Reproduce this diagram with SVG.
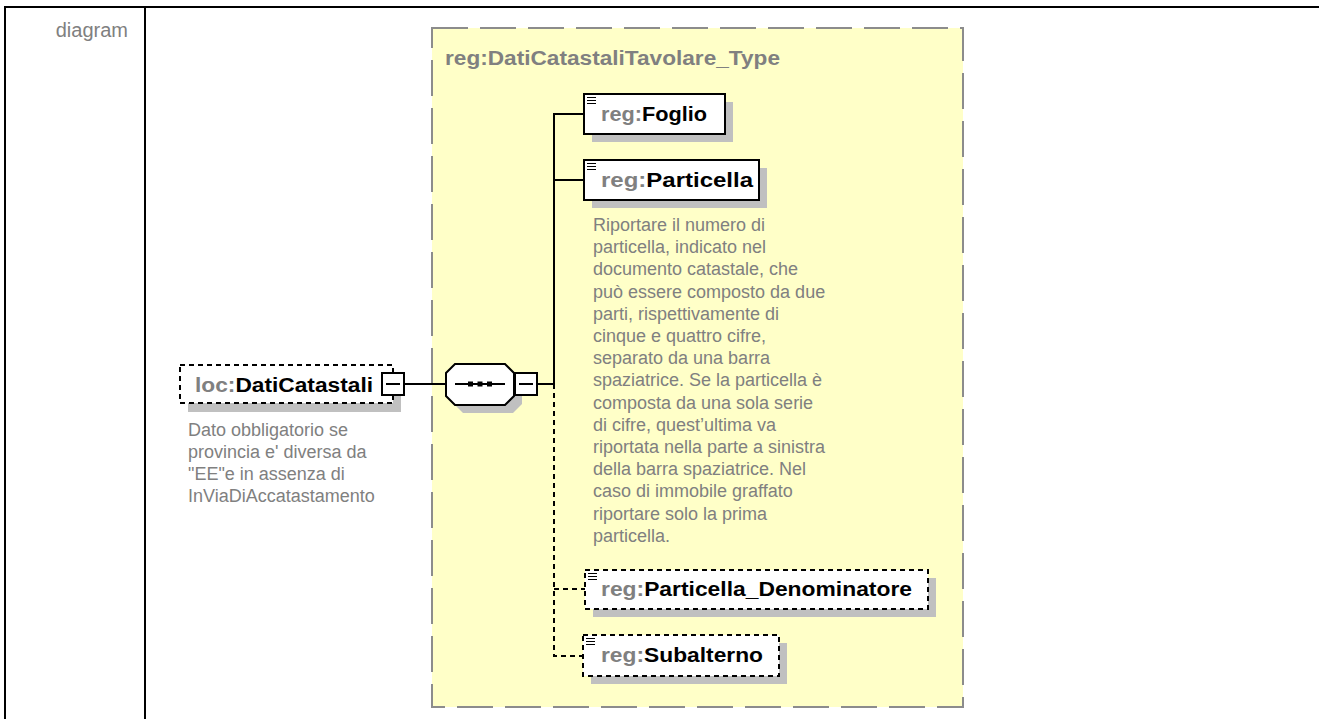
<svg xmlns="http://www.w3.org/2000/svg" width="1319" height="719" viewBox="0 0 1319 719">
<style>
.frame{stroke:#000;stroke-width:2;fill:none}
.lbl{font-family:"Liberation Sans",Arial,sans-serif;font-size:20px;fill:#808080}
.ttl{font-family:"Liberation Sans",Arial,sans-serif;font-weight:bold;font-size:19.5px;fill:#808080}
.nm{font-family:"Liberation Sans",Arial,sans-serif;font-weight:bold;font-size:19.5px;fill:#000}
.pf{fill:#808080}
.ann{font-family:"Liberation Sans",Arial,sans-serif;font-size:18px;fill:#808080}
.box{fill:#fff;stroke:#000;stroke-width:2}
.obox{fill:#fff;stroke:#000;stroke-width:2;stroke-dasharray:5 4}
.shd{fill:#c0c0c0}
.ln{stroke:#000;stroke-width:2;fill:none}
.dln{stroke:#000;stroke-width:2;fill:none;stroke-dasharray:5 4}
.ico{stroke:#000;stroke-width:1.2}
</style>
<defs>
<g id="icon"><path class="ico" d="M3,3.5H12M3,6.5H12M3,9.5H12"/></g>
</defs>
<g id="table">
<path class="frame" d="M4,7H1319M5,6V719M145,6V719"/>
<text class="lbl" x="128" y="37" text-anchor="end">diagram</text>
</g>
<g id="type">
<rect x="432" y="28" width="531" height="679" fill="#ffffc8" stroke="#8c8c8c" stroke-width="2" stroke-dasharray="36 12"/>
<text class="ttl" x="445" y="65" textLength="335" lengthAdjust="spacingAndGlyphs">reg:DatiCatastaliTavolare_Type</text>
</g>
<g id="connectors">
<path class="ln" d="M404,384H446M537,384H554M554,384V114H584M554,180H584"/>
<path class="dln" d="M554,384V656H583M554,589H585"/>
</g>
<g id="DatiCatastali">
<rect class="shd" x="188" y="373" width="213" height="39"/>
<rect class="obox" x="180" y="365" width="213" height="38"/>
<text class="nm" x="195" y="391.5" textLength="178" lengthAdjust="spacingAndGlyphs"><tspan class="pf">loc:</tspan>DatiCatastali</text>
<rect class="box" x="382" y="373" width="22" height="22"/>
<path class="ln" d="M386,384H400"/>
<text class="ann"><tspan x="188" y="436">Dato obbligatorio se</tspan><tspan x="188" y="458">provincia e' diversa da</tspan><tspan x="188" y="480">"EE"e in assenza di</tspan><tspan x="188" y="502">InViaDiAccatastamento</tspan></text>
</g>
<g id="sequence">
<polygon class="shd" points="463,372 513,372 522,381 522,404 513,413 463,413 454,404 454,381"/>
<polygon fill="#fff" stroke="#000" stroke-width="2" points="455,364 505,364 514,373 514,396 505,405 455,405 446,396 446,373"/>
<path class="ln" d="M455,384H505"/>
<rect x="468" y="381.5" width="5" height="5"/>
<rect x="477.5" y="381.5" width="5" height="5"/>
<rect x="487" y="381.5" width="5" height="5"/>
<rect class="box" x="515" y="373" width="22" height="22"/>
<path class="ln" d="M519,384H533"/>
</g>
<g id="Foglio">
<rect class="shd" x="592" y="102" width="141" height="40"/>
<rect class="box" x="584" y="94" width="141" height="40"/>
<use href="#icon" x="584" y="94"/>
<text class="nm" x="601" y="121" textLength="106" lengthAdjust="spacingAndGlyphs"><tspan class="pf">reg:</tspan>Foglio</text>
</g>
<g id="Particella">
<rect class="shd" x="592" y="168" width="175" height="40"/>
<rect class="box" x="584" y="160" width="175" height="40"/>
<use href="#icon" x="584" y="160"/>
<text class="nm" x="601" y="187" textLength="152" lengthAdjust="spacingAndGlyphs"><tspan class="pf">reg:</tspan>Particella</text>
<text class="ann"><tspan x="593" y="231">Riportare il numero di</tspan><tspan x="593" y="253.2">particella, indicato nel</tspan><tspan x="593" y="275.4">documento catastale, che</tspan><tspan x="593" y="297.6">può essere composto da due</tspan><tspan x="593" y="319.8">parti, rispettivamente di</tspan><tspan x="593" y="342">cinque e quattro cifre,</tspan><tspan x="593" y="364.2">separato da una barra</tspan><tspan x="593" y="386.4">spaziatrice. Se la particella è</tspan><tspan x="593" y="408.6">composta da una sola serie</tspan><tspan x="593" y="430.8">di cifre, quest’ultima va</tspan><tspan x="593" y="453">riportata nella parte a sinistra</tspan><tspan x="593" y="475.2">della barra spaziatrice. Nel</tspan><tspan x="593" y="497.4">caso di immobile graffato</tspan><tspan x="593" y="519.6">riportare solo la prima</tspan><tspan x="593" y="541.8">particella.</tspan></text>
</g>
<g id="Particella_Denominatore">
<rect class="shd" x="593" y="578" width="343" height="39"/>
<rect class="obox" x="585" y="570" width="343" height="39"/>
<use href="#icon" x="585" y="570"/>
<text class="nm" x="601" y="596" textLength="311" lengthAdjust="spacingAndGlyphs"><tspan class="pf">reg:</tspan>Particella_Denominatore</text>
</g>
<g id="Subalterno">
<rect class="shd" x="591" y="643" width="196" height="41"/>
<rect class="obox" x="583" y="635" width="196" height="41"/>
<use href="#icon" x="583" y="635"/>
<text class="nm" x="601" y="662" textLength="162" lengthAdjust="spacingAndGlyphs"><tspan class="pf">reg:</tspan>Subalterno</text>
</g>
</svg>
